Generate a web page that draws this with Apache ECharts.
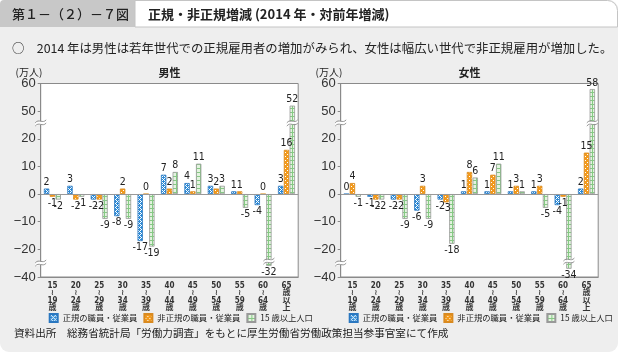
<!DOCTYPE html>
<html><head><meta charset="utf-8">
<script src="https://cdn.jsdelivr.net/npm/echarts@6/dist/echarts.min.js"></script>
<style>html,body{margin:0;padding:0;background:#fff;}#c{width:621px;height:355px;}</style>
</head><body><div id="c"></div>
<script>
// ---------- data ----------
const categories = ['15～19歳','20～24歳','25～29歳','30～34歳','35～39歳','40～44歳','45～49歳','50～54歳','55～59歳','60～64歳','65歳以上'];
const seriesNames = ['正規の職員・従業員','非正規の職員・従業員','15 歳以上人口'];
const maleRegular      = [2, 3, -2, -8, -17, 7, 4, 3, 1, -4, 3];
const maleNonRegular   = [-1, -2, -2, 2, 0, 2, 1, 2, 1, 0, 16];
const malePopulation   = [-2, -1, -9, -9, -19, 8, 11, 3, -5, -32, 52];
const femaleRegular    = [0, -1, -2, -6, -2, 1, 1, 1, 1, -4, 2];
const femaleNonRegular = [4, -2, -2, 3, -3, 8, 7, 3, 3, -1, 15];
const femalePopulation = [-1, -2, -9, -9, -18, 6, 11, 1, -5, -34, 58];
const yTickValues = [-40, -20, -10, 0, 10, 20, 50, 60];   // broken axis ticks (equally spaced)
const chartTitles = ['男性', '女性'];

// ---------- broken-axis transform ----------
const T0 = 3; // index of 0 in yTickValues
function tf(v) {
  for (let i = 0; i < yTickValues.length - 1; i++) {
    const a = yTickValues[i], b = yTickValues[i + 1];
    if ((v >= a && v <= b) || (i === 0 && v < a) || (i === yTickValues.length - 2 && v > b)) {
      return (i - T0) + (v - a) / (b - a);
    }
  }
  return 0;
}
const UPPER_BREAK_T = 2.62, LOWER_BREAK_T = -2.45;

// ---------- patterns ----------
function tile(w, h, bg, draw) {
  const c = document.createElement('canvas'); c.width = w; c.height = h;
  const g = c.getContext('2d'); g.fillStyle = bg; g.fillRect(0, 0, w, h); draw(g); return c;
}
const blueTile = tile(4, 4, '#2b8ad6', g => { g.fillStyle = '#ffffff'; g.fillRect(0,0,1,1); g.fillRect(1,1,1,1); g.fillRect(2,0,1,1); g.fillRect(2,2,1,1); g.fillRect(3,3,1,1); g.fillRect(0,2,1,1); });
const orangeTile = tile(4, 4, '#f39a1c', g => { g.fillStyle = '#ffffff'; g.fillRect(1,0,1,1); g.fillRect(3,2,1,1); });
const greenTile = tile(4, 4, '#e4f3e0', g => { g.fillStyle = '#86c984'; g.fillRect(0,0,4,1); g.fillRect(0,0,1,4); });
const fills = [
  { image: blueTile, repeat: 'repeat' },
  { image: orangeTile, repeat: 'repeat' },
  { image: greenTile, repeat: 'repeat' }
];
const borders = ['#2a77c0', '#d98a20', '#999999'];

const GRID_W = 257.5, GRID_H = 193.5, GRID_TOP = 83.5;
const gridLefts = [40.7, 340.7];
const BAR_W = 0.23, BAR_GAP = 0.08;
const FONT = '"Noto Sans CJK JP", sans-serif';
const NARROW = '"Liberation Sans Narrow", "DejaVu Sans Condensed", "Noto Sans CJK JP", sans-serif';

function xLabel(s) {
  let m = s.match(/^(\d+)～(\d+)(.)$/);
  if (m) return [m[1], '≀', m[2], m[3]].join('\n');
  m = s.match(/^(\d+)(.*)$/);
  return [m[1]].concat(m[2].split('')).join('\n');
}

function makeBars(raws, gi) {
  return raws.map((raw, si) => ({
    name: seriesNames[si], type: 'bar', xAxisIndex: gi, yAxisIndex: gi,
    barWidth: (BAR_W * 100) + '%', barGap: (BAR_GAP * 100) + '%',
    itemStyle: { color: fills[si], borderColor: borders[si], borderWidth: 0.8 },
    label: { show: true, formatter: p => String(raw[p.dataIndex]), fontSize: 10.5, color: '#222', distance: 1, fontFamily: NARROW },
    data: raw.map(v => ({ value: tf(v), label: { position: v >= 0 ? 'top' : 'bottom' } })),
    markLine: si === 0 ? { silent: true, symbol: 'none', label: { show: false }, lineStyle: { color: '#999', width: 1, type: 'solid' }, data: [{ yAxis: 0 }] } : undefined,
    z: 2
  }));
}

function breakData(raws) {
  const d = [[-1, -1, UPPER_BREAK_T], [-1, -1, LOWER_BREAK_T]];
  raws.forEach((raw, si) => raw.forEach((v, ci) => {
    const t = tf(v);
    if (t > UPPER_BREAK_T + 0.05) d.push([ci, si, UPPER_BREAK_T]);
    if (t < LOWER_BREAK_T - 0.05) d.push([ci, si, LOWER_BREAK_T + 0.07]);
  }));
  return d;
}
function renderBreak(params, api) {
  const ci = api.value(0), si = api.value(1), t = api.value(2);
  const band = api.size([1, 0])[0];
  let x;
  if (si < 0) x = api.coord([0, t])[0] - band / 2;
  else x = api.coord([ci, t])[0] + (si - 1) * band * BAR_W * (1 + BAR_GAP);
  const y = api.coord([0, t])[1];
  const w = 5.5, g = 3.2;
  const wave = dy => ({ type: 'bezierCurve', shape: { x1: x - w, y1: y + 1.2 + dy, cpx1: x - w / 3, cpy1: y - 3.5 + dy, cpx2: x + w / 3, cpy2: y + 2.5 + dy, x2: x + w, y2: y - 1.8 + dy }, style: { stroke: '#888', fill: null, lineWidth: 0.9 } });
  return { type: 'group', children: [
    { type: 'polygon', shape: { points: [[x - w, y + 1.2], [x + w, y - 1.8], [x + w, y - 1.8 + g], [x - w, y + 1.2 + g]] }, style: { fill: '#fff' } },
    wave(0), wave(g)
  ] };
}

const groups = [[maleRegular, maleNonRegular, malePopulation], [femaleRegular, femaleNonRegular, femalePopulation]];

const option = {
  animation: false,
  textStyle: { fontFamily: FONT },
  graphic: [
    { type: 'rect', z: -10, shape: { x: 0, y: 0, width: 618, height: 352, r: 9 }, style: { fill: '#eeeeee' } },
    { type: 'rect', z: -9, shape: { x: 0, y: 0, width: 135, height: 27, r: [4, 0, 0, 0] }, style: { fill: '#c8c8c8' } },
    { type: 'rect', z: -9, shape: { x: 135, y: 0.5, width: 482.5, height: 26.5, r: [0, 10, 0, 0] }, style: { fill: '#ffffff', stroke: '#c4c4c4', lineWidth: 1 } },
    { type: 'text', z: 5, style: { text: '第１－（２）－７図', x: 12, y: 14, font: '500 13px ' + FONT, fill: '#222', textVerticalAlign: 'middle' } },
    { type: 'text', z: 5, style: { text: '正規・非正規増減 (2014 年・対前年増減)', x: 148, y: 14, font: 'bold 13px ' + FONT, fill: '#222', textVerticalAlign: 'middle' } },
    { type: 'text', z: 5, style: { text: '○　2014 年は男性は若年世代での正規雇用者の増加がみられ、女性は幅広い世代で非正規雇用が増加した。', x: 12, y: 48, font: '12.4px ' + FONT, fill: '#222', textVerticalAlign: 'middle' } },
    { type: 'text', z: 5, style: { text: '(万人)', x: 29, y: 72.5, font: '10px ' + FONT, fill: '#222', textAlign: 'center', textVerticalAlign: 'middle' } },
    { type: 'text', z: 5, style: { text: '(万人)', x: 329, y: 72.5, font: '10px ' + FONT, fill: '#222', textAlign: 'center', textVerticalAlign: 'middle' } },
    { type: 'text', z: 5, style: { text: chartTitles[0], x: gridLefts[0] + GRID_W / 2, y: 72.5, font: 'bold 11px ' + FONT, fill: '#222', textAlign: 'center', textVerticalAlign: 'middle' } },
    { type: 'text', z: 5, style: { text: chartTitles[1], x: gridLefts[1] + GRID_W / 2, y: 72.5, font: 'bold 11px ' + FONT, fill: '#222', textAlign: 'center', textVerticalAlign: 'middle' } },
    { type: 'text', z: 5, style: { text: '資料出所　総務省統計局「労働力調査」をもとに厚生労働省労働政策担当参事官室にて作成', x: 14, y: 333, font: '10.6px ' + FONT, fill: '#222', textVerticalAlign: 'middle' } }
  ],
  legend: [0, 1].map(gi => ({
    data: seriesNames, left: gridLefts[gi] + 8, top: 313, width: 290, itemWidth: 8, itemHeight: 8, itemGap: 6,
    icon: 'rect', textStyle: { fontSize: 8.3, color: '#222', fontFamily: FONT }, selectedMode: false, padding: 0
  })),
  grid: gridLefts.map(l => ({ left: l, top: GRID_TOP, width: GRID_W, height: GRID_H, show: true, backgroundColor: '#fff', borderColor: '#8a8a8a', borderWidth: 1 })),
  xAxis: [0, 1].map(gi => ({
    type: 'category', gridIndex: gi, data: categories, position: 'bottom',
    axisLine: { show: true, onZero: false, lineStyle: { color: '#8a8a8a' } },
    axisTick: { show: false },
    axisLabel: { interval: 0, formatter: xLabel, fontSize: 8, lineHeight: 7.4, fontWeight: 'bold', color: '#333', margin: 5, fontFamily: NARROW }
  })),
  yAxis: [0, 1].map(gi => ({
    type: 'value', gridIndex: gi, min: -3, max: 4, interval: 1,
    axisLine: { show: true, lineStyle: { color: '#8a8a8a' } },
    axisTick: { show: true, length: 3, lineStyle: { color: '#8a8a8a' } },
    splitLine: { show: false },
    axisLabel: { formatter: t => String(yTickValues[Math.round(t) + T0]).replace('-', '−'), fontSize: 13, color: '#333', margin: 5, fontFamily: '"Liberation Sans", sans-serif' }
  })),
  series: []
};
groups.forEach((raws, gi) => {
  option.series.push(...makeBars(raws, gi));
  option.series.push({ type: 'custom', xAxisIndex: gi, yAxisIndex: gi, renderItem: renderBreak, data: breakData(raws), encode: { x: 0, y: 2 }, z: 5, silent: true, clip: false });
});

const chart = echarts.init(document.getElementById('c'), null, { renderer: 'canvas' });
chart.setOption(option);
</script></body></html>
